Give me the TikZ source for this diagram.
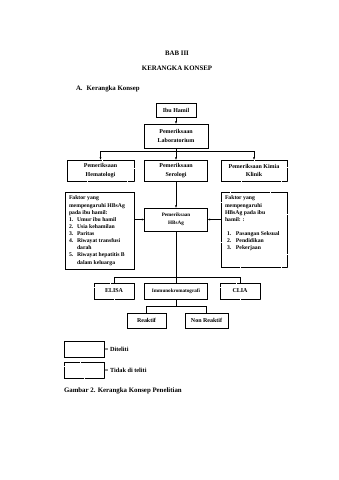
\documentclass[tikz,border=0pt]{standalone}
\usepackage{fontspec}
\setmainfont{Liberation Serif}
\usetikzlibrary{arrows.meta,positioning,calc}
\newlength\pxu
\setlength\pxu{1.755pt}
\newcommand\itemrow[3]{\mbox{\makebox[#1\pxu][l]{#2}#3}}
\begin{document}
\begin{tikzpicture}[x=1.755pt,y=-1.755pt,
  solidbox/.style={draw,line width=0.8pt,inner sep=1pt,align=center,font=\fontsize{10.5}{14.5}\selectfont\bfseries},
  dotbox/.style={solidbox,line width=1pt,dash pattern=on 0.9pt off 0.9pt},
  smalltext/.style={font=\fontsize{9}{15}\selectfont\bfseries},
  listbox/.style={draw,line width=0.8pt,inner sep=7pt,font=\fontsize{10}{12.5}\selectfont\bfseries},
  listdot/.style={listbox,line width=1pt,dash pattern=on 0.9pt off 0.9pt},
  arr/.style={line width=0.6pt,-{Latex[length=4pt,width=3.4pt]}},
  link/.style={line width=0.6pt},
  title/.style={font=\fontsize{12}{14}\selectfont\bfseries},
  legendtext/.style={font=\fontsize{11}{13}\selectfont\bfseries,inner sep=1pt}]
\useasboundingbox (0,0) rectangle (339,480);
% judul
\node[title] (bab) at (177,53) {BAB III};
\node[title] (judul) at (177,68) {KERANGKA KONSEP};
\node[title,anchor=west] (subjudul) at (74,89) {A.\hspace{7pt}Kerangka Konsep};
% kotak utama
\node[solidbox,minimum width=40\pxu,minimum height=14\pxu] (ibu) at (176,110) {Ibu Hamil};
\node[solidbox,minimum width=64\pxu,minimum height=24\pxu] (lab) at (176,136) {Pemeriksaan\\Laboratorium};
\node[dotbox,minimum width=67\pxu,minimum height=21\pxu] (hema) at (100.5,170.5) {Pemeriksaan\\Hematologi};
\node[solidbox,minimum width=63\pxu,minimum height=21\pxu] (sero) at (176,170.5) {Pemeriksaan\\Serologi};
\node[dotbox,minimum width=66\pxu,minimum height=21\pxu] (kimia) at (254,170.5) {Pemeriksaan Kimia\\Klinik};
\node[solidbox,smalltext,minimum width=63\pxu,minimum height=23\pxu] (hbsag) at (176,219.5) {Pemeriksaan\\HBsAg};
% faktor
\node[listbox] (fkiri) at (99.5,230.5) {\parbox[c][69\pxu][t]{61\pxu}{\raggedright
  Faktor yang\\ mempengaruhi HBsAg\\ pada ibu hamil:\\
  \itemrow{8}{1.}{Umur ibu hamil}\\ \itemrow{8}{2.}{Usia kehamilan}\\
  \itemrow{8}{3.}{Paritas}\\ \itemrow{8}{4.}{Riwayat transfusi}\\ \itemrow{8}{}{darah}\\
  \itemrow{8}{5.}{Riwayat hepatitis B}\\ \itemrow{8}{}{dalam keluarga}}};
\node[listdot] (fkanan) at (254,229.5) {\parbox[c][67\pxu][t]{58\pxu}{\raggedright
  Faktor yang\\ mempengaruhi\\ HBsAg pada ibu\\ hamil: :\\[12.5pt]
  \hspace*{2\pxu}\itemrow{9}{1.}{Pasangan Seksual}\\
  \hspace*{2\pxu}\itemrow{9}{2.}{Pendidikan}\\
  \hspace*{2\pxu}\itemrow{9}{3.}{Pekerjaan}}};
% metode
\node[dotbox,minimum width=40\pxu,minimum height=16\pxu] (elisa) at (114,291) {ELISA};
\node[solidbox,smalltext,minimum width=63\pxu,minimum height=16\pxu] (imuno) at (176,291) {Immunokromatografi};
\node[dotbox,minimum width=40\pxu,minimum height=16\pxu] (clia) at (240,291) {CLIA};
\node[solidbox,minimum width=39\pxu,minimum height=15\pxu] (reaktif) at (146.5,320.5) {Reaktif};
\node[solidbox,minimum width=43\pxu,minimum height=15\pxu] (nonreaktif) at (206.5,320.5) {Non Reaktif};
% panah
\draw[arr] (ibu) -- (lab);
\draw[arr] (lab) -- (sero);
\foreach \n in {hema,kimia} {\draw[arr] (lab.south) -- ++(0,3) -| (\n.north);}
\draw[arr] (sero) -- (hbsag);
\draw[arr] (fkiri.east |- hbsag) -- (hbsag);
\draw[arr] (fkanan.west |- hbsag) -- (hbsag);
\draw[link] (hbsag) -- (imuno);
\foreach \n in {elisa,clia} {\draw[link] (hbsag.south) -- ++(0,46) -| (\n.north);}
\foreach \n in {reaktif,nonreaktif} {\draw[link] (imuno.south) -- ++(0,7) -| (\n.north);}
% keterangan
\node[solidbox,minimum width=40\pxu,minimum height=16\pxu] (ketditeliti) at (84,349) {};
\node[dotbox,minimum width=40\pxu,minimum height=16\pxu] (kettidak) at (84,370) {};
\node[legendtext,anchor=west] (txtditeliti) at (ketditeliti.east) {= Diteliti};
\node[legendtext,anchor=west] (txttidak) at (kettidak.east) {= Tidak di teliti};
\node[title,anchor=west] (gambar) at (62,391) {Gambar 2. Kerangka Konsep Penelitian};
\end{tikzpicture}
\end{document}
